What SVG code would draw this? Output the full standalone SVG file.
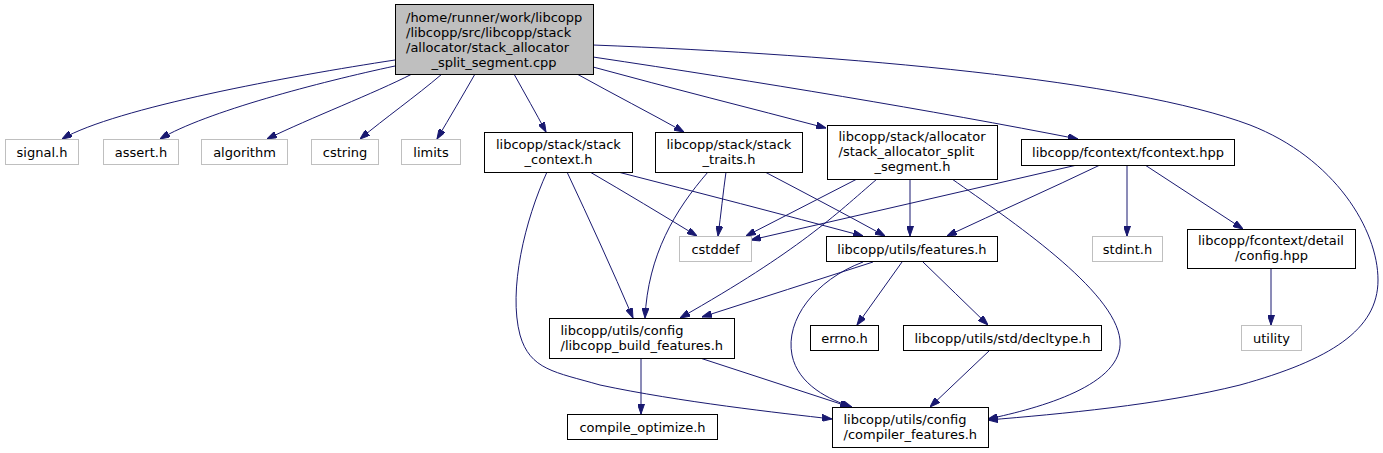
<svg xmlns="http://www.w3.org/2000/svg" width="1383" height="453" viewBox="0 0 1383 453">
<style>
.n rect{fill:#ffffff;stroke:#000000;stroke-width:1}
.g rect{fill:#ffffff;stroke:#bfbfbf;stroke-width:1}
.top rect{fill:#bfbfbf;stroke:#000000;stroke-width:1}
text{font-family:"DejaVu Sans","Liberation Sans",sans-serif;font-size:13px;fill:#000000}
.m{text-anchor:middle}
.e path{fill:none;stroke:#191970;stroke-width:1;marker-end:url(#arr)}
</style>
<defs>
<marker id="arr" viewBox="0 0 10 7" refX="10" refY="3.5" markerWidth="10" markerHeight="7" markerUnits="userSpaceOnUse" orient="auto">
<path d="M0,0 L10,3.5 L0,7 Z" fill="#191970" stroke="#191970" stroke-width="1"/>
</marker>
</defs>
<rect width="1383" height="453" fill="#ffffff"/>
<g class="e" id="edges">
<path d="M395,60 C290,76 115,108 62,139"/>
<path d="M395,66 C320,82 205,112 160,139"/>
<path d="M412,74 C375,93 310,118 267,139"/>
<path d="M442,74 C415,97 385,118 360,139"/>
<path d="M475,74 C463,95 450,117 437,139"/>
<path d="M514,74 C525,94 536,113 546,132"/>
<path d="M577,74 C613,94 650,113 684,132"/>
<path d="M593,67 C670,88 750,108 826,128"/>
<path d="M593,57 C760,82 930,110 1078,139"/>
<path d="M593,45 C850,55 1130,80 1250,125 C1335,158 1378,230 1378,280 C1378,330 1330,360 1240,385 C1160,405 1060,414 988,420"/>
<path d="M547,172 C525,220 508,290 520,335 C530,370 555,372 600,385 C680,402 780,413 832,419"/>
<path d="M567,172 C590,221 612,269 633,318"/>
<path d="M590,172 C626,193 661,214 697,236"/>
<path d="M618,172 C700,193 781,214 863,236"/>
<path d="M708,172 C675,210 648,255 645,318"/>
<path d="M726,172 C723,193 721,214 718,236"/>
<path d="M765,172 C805,193 845,214 885,236"/>
<path d="M857,179 C820,198 783,217 746,236"/>
<path d="M877,179 C835,215 800,250 680,318"/>
<path d="M910,179 L910,236"/>
<path d="M952,179 C1010,220 1115,290 1120,340 C1124,385 1040,408 988,419"/>
<path d="M1077,165 C968,190 860,215 751,240"/>
<path d="M1100,165 C1050,189 998,212 947,236"/>
<path d="M1127,165 L1127,236"/>
<path d="M1145,165 C1178,186 1210,208 1243,229"/>
<path d="M873,262 C816,280 759,299 702,317"/>
<path d="M863,262 C815,280 785,320 792,355 C798,385 830,400 852,407"/>
<path d="M902,262 C887,283 872,304 857,325"/>
<path d="M923,262 C945,283 966,304 988,325"/>
<path d="M641,358 L641,414"/>
<path d="M700,358 C750,374 800,391 850,407"/>
<path d="M990,350 C970,369 950,388 930,407"/>
<path d="M1271,268 L1271,325"/>
</g>
<g class="top" id="node_main">
<rect x="395.5" y="4.5" width="198" height="70"/>
<text x="406" y="22">/home/runner/work/libcopp</text>
<text x="406" y="37">/libcopp/src/libcopp/stack</text>
<text x="406" y="52">/allocator/stack_allocator</text>
<text x="494" y="67" class="m">_split_segment.cpp</text>
</g>
<g class="g" id="node_signal"><rect x="5.5" y="139.5" width="73" height="25"/><text x="42" y="156.5" class="m">signal.h</text></g>
<g class="g" id="node_assert"><rect x="103.5" y="139.5" width="75" height="25"/><text x="141" y="156.5" class="m">assert.h</text></g>
<g class="g" id="node_algorithm"><rect x="201.5" y="139.5" width="86" height="25"/><text x="244.5" y="156.5" class="m">algorithm</text></g>
<g class="g" id="node_cstring"><rect x="311.5" y="139.5" width="67" height="25"/><text x="345" y="156.5" class="m">cstring</text></g>
<g class="g" id="node_limits"><rect x="401.5" y="139.5" width="59" height="25"/><text x="431" y="156.5" class="m">limits</text></g>
<g class="n" id="node_stack_context"><rect x="484.5" y="132.5" width="148" height="40"/><text x="496" y="148.5">libcopp/stack/stack</text><text x="558.5" y="163.5" class="m">_context.h</text></g>
<g class="n" id="node_stack_traits"><rect x="655.5" y="132.5" width="147" height="40"/><text x="666.5" y="148.5">libcopp/stack/stack</text><text x="729" y="163.5" class="m">_traits.h</text></g>
<g class="n" id="node_split_segment"><rect x="827.5" y="125.5" width="170" height="54"/><text x="838.5" y="141">libcopp/stack/allocator</text><text x="838.5" y="156">/stack_allocator_split</text><text x="912.5" y="171" class="m">_segment.h</text></g>
<g class="n" id="node_fcontext"><rect x="1021.5" y="139.5" width="213" height="26"/><text x="1128" y="157" class="m">libcopp/fcontext/fcontext.hpp</text></g>
<g class="g" id="node_cstddef"><rect x="679.5" y="236.5" width="72" height="25"/><text x="715.5" y="253.5" class="m">cstddef</text></g>
<g class="n" id="node_features"><rect x="826.5" y="236.5" width="171" height="25"/><text x="912" y="253.5" class="m">libcopp/utils/features.h</text></g>
<g class="g" id="node_stdint"><rect x="1092.5" y="236.5" width="70" height="25"/><text x="1127.5" y="253.5" class="m">stdint.h</text></g>
<g class="n" id="node_config"><rect x="1187.5" y="229.5" width="168" height="39"/><text x="1198" y="245">libcopp/fcontext/detail</text><text x="1271.5" y="260" class="m">/config.hpp</text></g>
<g class="n" id="node_build_features"><rect x="549.5" y="318.5" width="185" height="40"/><text x="560.5" y="334.5">libcopp/utils/config</text><text x="560.5" y="349.5">/libcopp_build_features.h</text></g>
<g class="n" id="node_errno"><rect x="810.5" y="325.5" width="68" height="25"/><text x="844.5" y="342.5" class="m">errno.h</text></g>
<g class="n" id="node_decltype"><rect x="903.5" y="325.5" width="198" height="25"/><text x="1002.5" y="342.5" class="m">libcopp/utils/std/decltype.h</text></g>
<g class="g" id="node_utility"><rect x="1241.5" y="325.5" width="60" height="25"/><text x="1271.5" y="342.5" class="m">utility</text></g>
<g class="n" id="node_compile_optimize"><rect x="567.5" y="414.5" width="150" height="25"/><text x="642.5" y="431.5" class="m">compile_optimize.h</text></g>
<g class="n" id="node_compiler_features"><rect x="832.5" y="407.5" width="156" height="40"/><text x="843.5" y="423.5">libcopp/utils/config</text><text x="843.5" y="438.5">/compiler_features.h</text></g>
</svg>
